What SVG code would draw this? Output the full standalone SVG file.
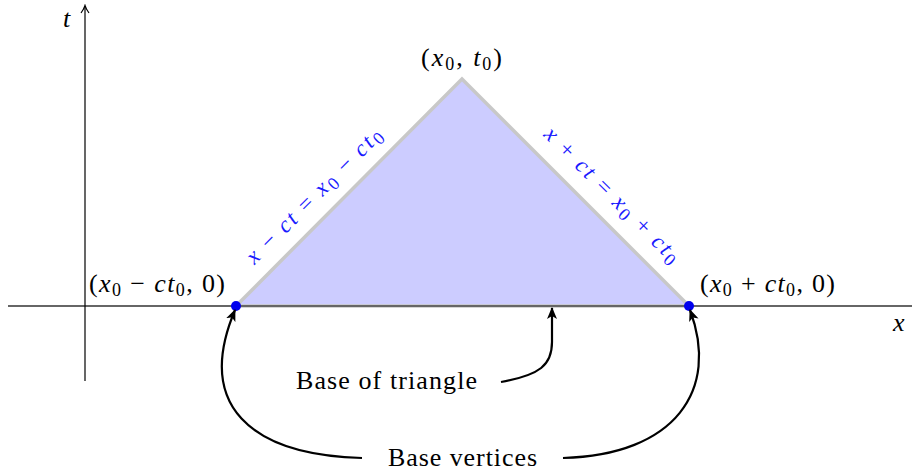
<svg xmlns="http://www.w3.org/2000/svg" width="912" height="473" viewBox="0 0 912 473">
<style>
text{font-family:"Liberation Serif","DejaVu Serif",serif}
.lbl{font-size:26px;fill:#000}
.m{font-style:italic}
.sub{font-size:18px;font-style:normal}
.blue{font-size:23px;fill:#1a1aff}
.conn{fill:none;stroke:#000;stroke-width:2.2}
</style>
<defs>
<marker id="tip" markerWidth="12" markerHeight="10" refX="11" refY="5" orient="auto" markerUnits="userSpaceOnUse">
<path d="M0,0 L12,5 L0,10 L3,5 Z" fill="#000"/>
</marker>
<marker id="open" markerWidth="10" markerHeight="10" refX="8" refY="5" orient="auto" markerUnits="userSpaceOnUse">
<path d="M1,1 Q5,4 8.5,5 Q5,6 1,9" fill="none" stroke="#000" stroke-width="1.2"/>
</marker>
</defs>

<g id="triangle">
<polygon points="236,306 462,79 689,306" fill="#ccccff" stroke="#c8c8c8" stroke-width="3.5" stroke-linejoin="miter"/>
</g>

<g id="axes">
<line x1="8" y1="306" x2="916" y2="306" stroke="#666" stroke-width="2"/>
<line x1="85" y1="381" x2="85" y2="6" stroke="#000" stroke-width="1.2" marker-end="url(#open)"/>
<text class="lbl m" x="63" y="27">t</text>
<text class="lbl m" x="893" y="331">x</text>
</g>

<g id="apex">
<text class="lbl" x="421" y="66" textLength="81">(<tspan class="m">x</tspan><tspan class="sub" dy="4">0</tspan><tspan dy="-4">, </tspan><tspan class="m">t</tspan><tspan class="sub" dy="4">0</tspan><tspan dy="-4">)</tspan></text>
</g>

<g id="left-vertex">
<circle cx="236" cy="306" r="5" fill="#0000ee"/>
<text class="lbl" x="89" y="292" textLength="136">(<tspan class="m">x</tspan><tspan class="sub" dy="4">0</tspan><tspan dy="-4"> − </tspan><tspan class="m">ct</tspan><tspan class="sub" dy="4">0</tspan><tspan dy="-4">, 0)</tspan></text>
</g>

<g id="right-vertex">
<circle cx="689" cy="306" r="5" fill="#0000ee"/>
<text class="lbl" x="700" y="292" textLength="135">(<tspan class="m">x</tspan><tspan class="sub" dy="4">0</tspan><tspan dy="-4"> + </tspan><tspan class="m">ct</tspan><tspan class="sub" dy="4">0</tspan><tspan dy="-4">, 0)</tspan></text>
</g>

<g id="left-edge-label" transform="translate(314,196) rotate(-45)">
<text class="blue" x="0" y="7" text-anchor="middle" textLength="182"><tspan class="m">x</tspan> − <tspan class="m">ct</tspan> = <tspan class="m">x</tspan><tspan class="sub" dy="4">0</tspan><tspan dy="-4"> − </tspan><tspan class="m">ct</tspan><tspan class="sub" dy="4">0</tspan></text>
</g>

<g id="right-edge-label" transform="translate(612,195) rotate(45)">
<text class="blue" x="0" y="7" text-anchor="middle" textLength="182"><tspan class="m">x</tspan> + <tspan class="m">ct</tspan> = <tspan class="m">x</tspan><tspan class="sub" dy="4">0</tspan><tspan dy="-4"> + </tspan><tspan class="m">ct</tspan><tspan class="sub" dy="4">0</tspan></text>
</g>

<g id="base-label">
<text class="lbl" x="296" y="389" textLength="181">Base of triangle</text>
</g>

<g id="vertices-label">
<text class="lbl" x="388" y="466" textLength="149">Base vertices</text>
</g>

<g id="connectors">
<path class="conn" d="M501,382 C540,375 552,365 552,342 L552,308" marker-end="url(#tip)"/>
<path class="conn" d="M362,458 C250,455 195,405 235,310" marker-end="url(#tip)"/>
<path class="conn" d="M563,458 C675,455 720,390 690,310" marker-end="url(#tip)"/>
</g>
</svg>
